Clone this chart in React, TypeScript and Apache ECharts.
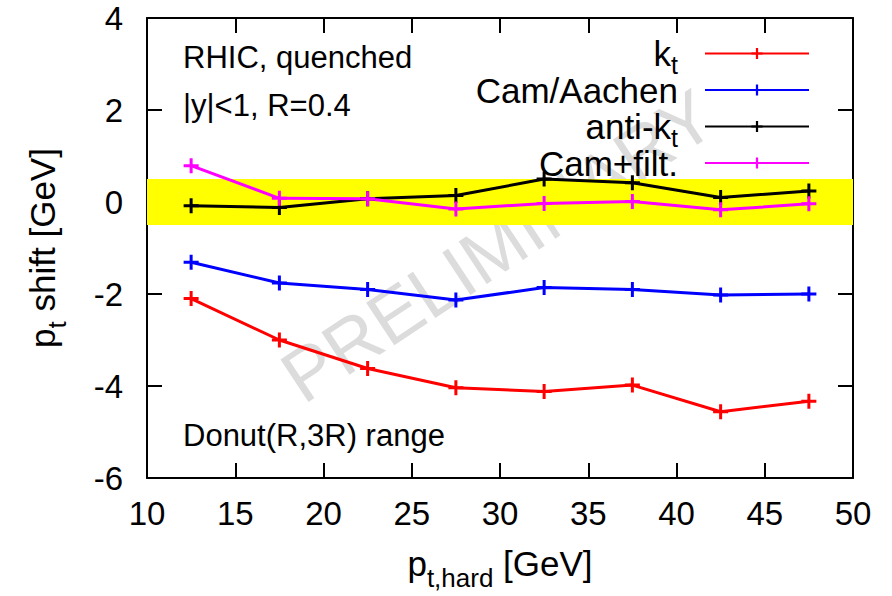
import React, { useEffect, useRef } from 'react';
import * as echarts from 'echarts';

// ---- data ----
const ptHard = [12.5, 17.5, 22.5, 27.5, 32.5, 37.5, 42.5, 47.5];
const ktShift = [-2.1, -3.0, -3.62, -4.04, -4.12, -3.98, -4.56, -4.33];
const camAachenShift = [-1.31, -1.76, -1.9, -2.13, -1.86, -1.9, -2.02, -2.0];
const antiKtShift = [-0.08, -0.12, 0.07, 0.14, 0.5, 0.42, 0.1, 0.24];
const camFiltShift = [0.79, 0.08, 0.07, -0.15, -0.03, 0.01, -0.17, -0.04];
const seriesNames = ['kt', 'Cam/Aachen', 'anti-kt', 'Cam+filt.'];
const seriesColors = ['#ff0000', '#0000ff', '#000000', '#ff00ff'];
const bandRange = [-0.5, 0.5];
const xRange = [10, 50, 5];
const yRange = [-6, 4, 2];
const annotations = ['RHIC, quenched', '|y|<1, R=0.4', 'Donut(R,3R) range'];
const watermark = 'PRELIMINARY';

const FONT = "'Liberation Sans', Arial, Helvetica, sans-serif";

export default function App() {
  const ref = useRef<HTMLDivElement>(null);

  useEffect(() => {
    if (!ref.current) return;
    const chart = echarts.init(ref.current, null, { renderer: 'svg' });
    const plus = 'path://M4,0h2v10h-2z M0,4h10v2h-10z';
    const allData = [ktShift, camAachenShift, antiKtShift, camFiltShift];

    const series: any[] = allData.map((vals, i) => ({
      name: seriesNames[i],
      type: 'line',
      data: ptHard.map((x, j) => [x, vals[j]]),
      symbol: plus,
      symbolSize: 15,
      showSymbol: true,
      z: 3,
      lineStyle: { color: seriesColors[i], width: 3 },
      itemStyle: { color: seriesColors[i], borderWidth: 0 },
      emphasis: { disabled: true },
      silent: true,
    }));
    series[0].markArea = {
      silent: true,
      itemStyle: { color: '#ffff00', opacity: 1 },
      data: [[{ coord: [xRange[0], bandRange[0]] }, { coord: [xRange[1], bandRange[1]] }]],
    };

    // main text: 35px in a 35px line; subscript drawn lower without growing the line
    const subRich = (gap: number, size: number, padTop: number) => ({
      fontFamily: FONT, fontSize: size, height: 4, lineHeight: 35,
      padding: [padTop, gap, 0, 0], verticalAlign: 'top', color: '#000',
    });
    const mainRich = (gap: number) => ({
      fontFamily: FONT, fontSize: 35, lineHeight: 35,
      padding: [0, gap, 0, 0], verticalAlign: 'top', color: '#000',
    });
    const axisRich = { m: mainRich(0), s: subRich(0, 26, 30) };
    const legendRich = {
      m: mainRich(0), mg: mainRich(22), sg: subRich(22, 25, 27),
      // blank zero-width subscript so that every legend row has the same height
      hs: { ...subRich(0, 25, 27), width: 0.01 },
    };

    const axisLine = { show: true, onZero: false, lineStyle: { color: '#000', width: 2 } };
    const axisTick = { show: true, inside: true, length: 15, lineStyle: { color: '#000', width: 2 } };

    chart.setOption({
      animation: false,
      grid: { left: 147, right: 39, top: 18, bottom: 117, containLabel: false },
      xAxis: [
        {
          type: 'value', min: xRange[0], max: xRange[1], interval: xRange[2], position: 'bottom',
          axisLine, axisTick, splitLine: { show: false },
          axisLabel: { fontFamily: FONT, fontSize: 33, color: '#000', margin: 19 },
          name: '{m|p}{s|t,hard}{m| [GeV]}', nameLocation: 'middle', nameGap: 68,
          nameTextStyle: { fontFamily: FONT, fontSize: 35, color: '#000', lineHeight: 35, rich: axisRich },
        },
        {
          type: 'value', min: xRange[0], max: xRange[1], interval: xRange[2], position: 'top',
          axisLine, axisTick, splitLine: { show: false }, axisLabel: { show: false },
        },
      ],
      yAxis: [
        {
          type: 'value', min: yRange[0], max: yRange[1], interval: yRange[2], position: 'left',
          axisLine, axisTick, splitLine: { show: false },
          axisLabel: { fontFamily: FONT, fontSize: 33, color: '#000', margin: 24 },
          name: '{m|p}{s|t}{m| shift [GeV]}', nameLocation: 'middle', nameGap: 87,
          nameTextStyle: { fontFamily: FONT, fontSize: 35, color: '#000', lineHeight: 35, rich: axisRich },
        },
        {
          type: 'value', min: yRange[0], max: yRange[1], interval: yRange[2], position: 'right',
          axisLine, axisTick, splitLine: { show: false }, axisLabel: { show: false },
        },
      ],
      legend: {
        data: seriesNames,
        orient: 'vertical', align: 'right', right: 82, top: 36, padding: 0,
        itemWidth: 104, itemHeight: 14, itemGap: -5,
        selectedMode: false,
        formatter: (n: string) => {
          if (n === 'kt') return '{m|k}{sg|t}';
          if (n === 'anti-kt') return '{m|anti-k}{sg|t}';
          return '{hs| }{mg|' + n + '}';
        },
        textStyle: { fontFamily: FONT, fontSize: 35, color: '#000', lineHeight: 35, rich: legendRich },
      },
      graphic: [
        {
          type: 'text', x: 498, y: 246, rotation: (33.5 * Math.PI) / 180, z: 0, silent: true,
          style: { text: watermark, fontFamily: FONT, fontSize: 74, fill: '#dcdcdc', align: 'center', verticalAlign: 'middle' },
        },
        {
          type: 'text', x: 183, y: 57, z: 10, silent: true,
          style: { text: annotations[0], fontFamily: FONT, fontSize: 31, fill: '#000', align: 'left', verticalAlign: 'middle' },
        },
        {
          type: 'text', x: 183, y: 105, z: 10, silent: true,
          style: { text: annotations[1], fontFamily: FONT, fontSize: 31, fill: '#000', align: 'left', verticalAlign: 'middle' },
        },
        {
          type: 'text', x: 183, y: 435, z: 10, silent: true,
          style: { text: annotations[2], fontFamily: FONT, fontSize: 31, fill: '#000', align: 'left', verticalAlign: 'middle' },
        },
      ],
      series,
    });

    return () => chart.dispose();
  }, []);

  return (
    <div
      ref={ref}
      style={{ position: 'fixed', left: 0, top: 0, width: 892, height: 596, background: '#fff' }}
    />
  );
}
